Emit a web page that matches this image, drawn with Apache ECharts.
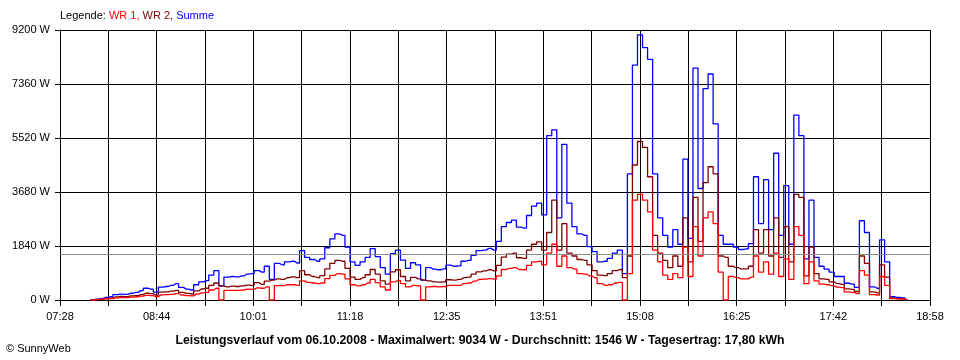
<!DOCTYPE html>
<html><head><meta charset="utf-8">
<script src="https://cdn.jsdelivr.net/npm/echarts@6/dist/echarts.min.js"></script>
<style>html,body{margin:0;padding:0;background:#fff}#c{width:960px;height:360px}</style>
</head><body><div id="c"></div>
<script>
// x tick labels (axis runs from first to last label)
const xLabels = ['07:28','08:44','10:01','11:18','12:35','13:51','15:08','16:25','17:42','18:58'];
// samples: every 4 minutes from 07:52
const sampleStart = '07:52';
const sampleStep = 4;
const yMax = 9200, yStep = 1840;
const average = 1546;
const titleText = 'Leistungsverlauf vom 06.10.2008 - Maximalwert: 9034 W - Durchschnitt: 1546 W - Tagesertrag: 17,80 kWh';

const summe = [
0,25,45,90,110,180,200,190,230,260,
320,400,370,270,440,460,500,560,430,370,
340,520,620,660,850,1000,480,780,800,790,
820,880,900,1000,950,1150,700,1250,1200,1300,
1320,1260,1680,1450,1380,1320,1400,1780,2080,2250,
2200,1800,1300,1180,1300,1450,1750,1480,1100,880,
1580,1700,1360,1080,1270,1200,680,1100,1050,1030,
1060,1190,1150,1160,1320,1350,1520,1680,1700,1760,
1700,2000,2500,2640,2720,2480,2450,2880,3200,3300,
2900,5600,5800,2800,5300,3300,2500,2250,2200,1820,
1650,1300,1320,1420,1600,1700,900,4300,8000,9034,
8600,8200,4300,2800,2200,1800,2400,1900,4800,2100,
7900,3800,7200,7700,6000,2200,1900,1900,1800,1720,
1740,1920,4200,2600,4100,2400,5000,2200,3900,1900,
6300,5600,1400,3400,1450,1150,1050,950,800,800,
570,540,430,2700,2300,450,400,2050,1300,110,
90,70,0];

const wr2 = [
0,15,25,55,65,105,120,115,140,150,
185,230,215,165,265,275,300,330,260,225,
205,310,375,400,500,580,480,450,470,460,
480,510,500,590,530,640,680,720,700,760,
790,760,1000,860,800,760,830,1060,1250,1350,
1320,1080,780,700,760,860,1040,880,650,540,
960,1030,800,650,770,720,680,650,620,610,
620,690,680,700,760,780,880,960,990,1030,
990,1180,1460,1560,1600,1440,1420,1700,1900,1980,
1700,2300,3400,1700,2600,1600,1500,1380,1350,1200,
1000,850,830,900,1000,1040,760,1500,4600,5400,
5200,4200,2200,1600,1350,1100,1500,1150,2800,1300,
3500,2000,4000,4540,4300,1500,1450,1150,1100,1060,
1060,1150,2400,1600,2400,1500,2800,1450,2500,1300,
3600,3500,820,1800,900,720,700,620,560,530,
380,360,290,1500,1250,280,240,1200,780,60,
50,40,0];

const wr1 = [
0,10,20,35,45,75,80,80,95,110,
130,160,150,110,175,185,195,220,170,150,
140,200,245,260,340,400,0,330,330,330,
340,370,360,410,400,450,0,490,490,520,
520,500,650,600,580,560,580,730,840,900,
880,720,520,480,520,580,700,590,450,340,
620,670,560,450,500,480,0,450,460,450,
460,500,500,500,560,580,640,700,710,730,
710,820,1040,1080,1100,1040,1030,1180,1300,1320,
1200,1600,1900,1150,1500,1100,1050,900,880,820,
760,560,500,520,580,600,0,900,3400,3600,
3400,3000,1700,1300,850,700,900,760,1800,800,
2500,1500,2800,3000,2600,950,0,800,760,720,
720,780,1500,950,1300,880,1600,800,1400,700,
2500,2200,560,1300,650,540,520,490,440,420,
280,260,220,1000,850,180,170,800,500,45,
40,30,0];

function toMin(s){const p=s.split(':').map(Number);return p[0]*60+p[1];}
const t0 = toMin(xLabels[0]);
const span = toMin(xLabels[xLabels.length-1]) - t0;
const xStep = span/((xLabels.length-1)*2);
const s0 = toMin(sampleStart) - t0;
function pts(arr){return arr.map((v,i)=>[s0+i*sampleStep, v]);}

const font = 'Liberation Sans, Arial, sans-serif';
const chart = echarts.init(document.getElementById('c'), null, {renderer:'canvas'});
function lineSeries(name, arr, color, mark){
  const s = {name, type:'line', data:pts(arr), step:'middle', showSymbol:false, symbol:'none',
    lineStyle:{color, width:1.3}, itemStyle:{color}, animation:false, z:2};
  if(mark){
    s.markLine = {silent:true, symbol:'none', label:{show:false}, animation:false,
      lineStyle:{color:'#8c8c8c', width:1.2, type:'solid'}, data:[{yAxis:average}]};
  }
  return s;
}
chart.setOption({
  animation:false,
  backgroundColor:'#fff',
  grid:{left:60, right:30, top:30, bottom:60, containLabel:false},
  title:{text:titleText, left:'center', top:330,
    textStyle:{fontSize:12.25, fontWeight:'bold', color:'#000', fontFamily:font}},
  graphic:[
    {type:'text', left:60, top:10, style:{
      text:'{a|Legende: }{b|WR 1, }{c|WR 2, }{d|Summe}',
      rich:{a:{fill:'#000',fontSize:11,fontFamily:font},b:{fill:'#ff0000',fontSize:11,fontFamily:font},
            c:{fill:'#800000',fontSize:11,fontFamily:font},d:{fill:'#0000ff',fontSize:11,fontFamily:font}}}},
    {type:'text', left:6, top:343, style:{text:'\u00a9 SunnyWeb', fill:'#000', fontSize:11, fontFamily:font}}
  ],
  xAxis:{type:'value', min:0, max:span, interval:xStep,
    axisLine:{show:true, lineStyle:{color:'#000', width:1}},
    axisTick:{show:true, length:6, lineStyle:{color:'#000'}},
    splitLine:{show:true, lineStyle:{color:'#000', width:1}},
    axisLabel:{show:true, margin:11, color:'#000', fontSize:11, fontFamily:font,
      showMinLabel:true, showMaxLabel:true, hideOverlap:false,
      formatter:function(v){const k=Math.round(v/xStep);return k%2===0?xLabels[k/2]:'';}}},
  yAxis:{type:'value', min:0, max:yMax, interval:yStep,
    axisLine:{show:true, lineStyle:{color:'#000', width:1}},
    axisTick:{show:true, length:5, lineStyle:{color:'#000'}},
    splitLine:{show:true, lineStyle:{color:'#000', width:1}},
    axisLabel:{margin:10, color:'#000', fontSize:11, fontFamily:font, formatter:v=>v+' W'}},
  series:[
    lineSeries('Summe', summe, '#0000ff', true),
    lineSeries('WR 2', wr2, '#800000', false),
    lineSeries('WR 1', wr1, '#ff0000', false)
  ]
});
</script></body></html>
